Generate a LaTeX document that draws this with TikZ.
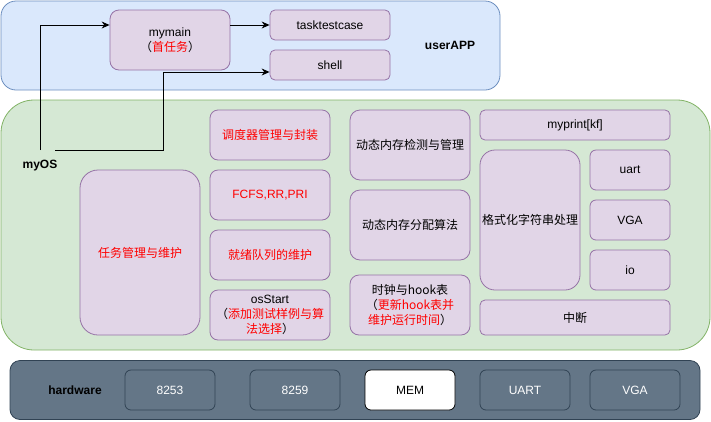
\documentclass[tikz,border=0pt]{standalone}
\usepackage{fontspec}
\setmainfont{Liberation Sans}
\newfontfamily\cjk{Noto Sans CJK SC}
\usetikzlibrary{arrows.meta}
\definecolor{pfill}{HTML}{E1D5E7}
\definecolor{pdraw}{HTML}{9673A6}
\definecolor{bfill}{HTML}{DAE8FC}
\definecolor{bdraw}{HTML}{6C8EBF}
\definecolor{gfill}{HTML}{D5E8D4}
\definecolor{gdraw}{HTML}{82B366}
\definecolor{hfill}{HTML}{647687}
\definecolor{hdraw}{HTML}{314354}
\definecolor{myred}{HTML}{FF0000}
\newcommand{\rd}[1]{\textcolor{myred}{#1}}
\begin{document}
\begin{tikzpicture}[x=1pt,y=-1pt,
  txt/.style={font=\fontsize{12pt}{15pt}\selectfont, align=center, inner sep=0pt},
  pbox/.style={txt, draw=pdraw, fill=pfill, line width=0.8pt},
  hbox/.style={txt, draw=hdraw, fill=hfill, line width=0.8pt, text=white, rounded corners=6pt, minimum width=90pt, minimum height=40pt},
  lbl/.style={txt, font=\fontsize{12pt}{15pt}\selectfont\bfseries},
  arr/.style={line width=0.9pt, -{Stealth[length=8pt,width=7pt]}}
]
\useasboundingbox (0,0) rectangle (711,421);
% containers
\node[draw=bdraw, fill=bfill, line width=0.8pt, rounded corners=15pt, minimum width=499pt, minimum height=89pt, inner sep=0pt] (app) at (250.5,45.5) {};
\node[draw=gdraw, fill=gfill, line width=0.8pt, rounded corners=33pt, minimum width=709pt, minimum height=250pt, inner sep=0pt] (os) at (355.5,225) {};
\node[draw=hdraw, fill=hfill, line width=0.8pt, rounded corners=10pt, minimum width=690pt, minimum height=59pt, inner sep=0pt] (hw) at (355,390) {};
% labels
\node[lbl] (applbl) at (450,45) {userAPP};
\node[lbl] (oslbl) at (40,166) {myOS};
\node[lbl] (hwlbl) at (75,390) {hardware};
% userAPP boxes
\node[pbox, minimum width=120pt, minimum height=60pt, rounded corners=9pt] (mymain) at (170,40) {mymain\\{\cjk （\rd{首任务}）}};
\node[pbox, minimum width=120pt, minimum height=30pt, rounded corners=5pt] (ttc) at (330,25) {tasktestcase};
\node[pbox, minimum width=120pt, minimum height=30pt, rounded corners=5pt] (shell) at (330,65) {shell};
% myOS boxes
\node[pbox, minimum width=120pt, minimum height=165pt, rounded corners=18pt, text=myred] (task) at (140,252.5) {\cjk 任务管理与维护};
\node[pbox, minimum width=120pt, minimum height=50pt, rounded corners=8pt, text=myred] (sched) at (270,135) {\cjk 调度器管理与封装};
\node[pbox, minimum width=120pt, minimum height=50pt, rounded corners=8pt, text=myred] (algo) at (270,195) {FCFS,RR,PRI};
\node[pbox, minimum width=120pt, minimum height=50pt, rounded corners=8pt, text=myred] (ready) at (270,255) {\cjk 就绪队列的维护};
\node[pbox, minimum width=120pt, minimum height=50pt, rounded corners=8pt] (start) at (270,315) {osStart\\{\cjk （\rd{添加测试样例与算}}\\{\cjk \rd{法选择}）}};
\node[pbox, minimum width=120pt, minimum height=70pt, rounded corners=10pt] (memchk) at (410,145) {\cjk 动态内存检测与管理};
\node[pbox, minimum width=120pt, minimum height=70pt, rounded corners=10pt] (memalloc) at (410,225) {\cjk 动态内存分配算法};
\node[pbox, minimum width=120pt, minimum height=60pt, rounded corners=9pt] (clock) at (410,305) {{\cjk 时钟与hook表}\\{\cjk （\rd{更新hook表并}}\\{\cjk \rd{维护运行时间}）}};
\node[pbox, minimum width=190pt, minimum height=30pt, rounded corners=5pt] (print) at (575,125) {myprint[kf]};
\node[pbox, minimum width=100pt, minimum height=140pt, rounded corners=15pt] (fmt) at (530,220) {\cjk 格式化字符串处理};
\node[pbox, minimum width=80pt, minimum height=40pt, rounded corners=6pt] (uart) at (630,170) {uart};
\node[pbox, minimum width=80pt, minimum height=40pt, rounded corners=6pt] (vga) at (630,220) {VGA};
\node[pbox, minimum width=80pt, minimum height=40pt, rounded corners=6pt] (io) at (630,270) {io};
\node[pbox, minimum width=190pt, minimum height=35pt, rounded corners=5pt] (irq) at (575,317.5) {\cjk 中断};
% hardware boxes
\node[hbox] (h8253) at (170,390) {8253};
\node[hbox] (h8259) at (295,390) {8259};
\node[hbox, fill=white, draw=black, text=black] (mem) at (410,390) {MEM};
\node[hbox] (huart) at (525,390) {UART};
\node[hbox] (hvga) at (635,390) {VGA};
% connectors
\coordinate (s1) at (40,150);
\coordinate (s2) at (55,150);
\draw[arr] (s1) |- (mymain.west |- 0,25);
\draw[arr] (s2) -| (163,72) -- (shell.west |- 0,72);
\draw[arr] (mymain.east |- ttc.west) -- (ttc.west);
\end{tikzpicture}
\end{document}
